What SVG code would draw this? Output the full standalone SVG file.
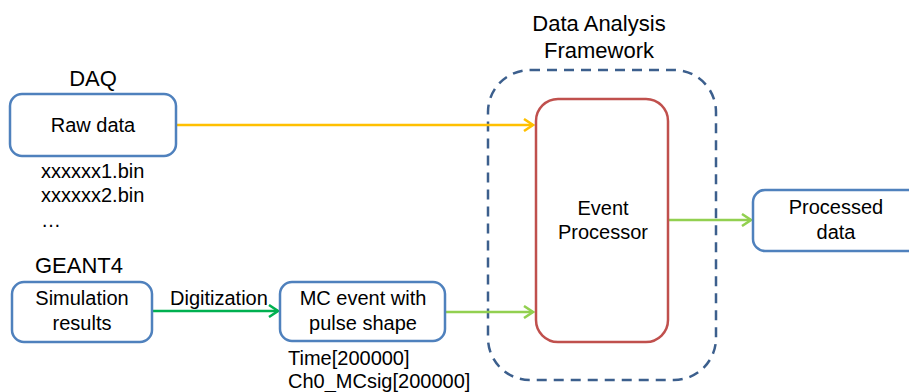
<svg xmlns="http://www.w3.org/2000/svg" width="909" height="392" viewBox="0 0 909 392">
<style>
text{font-family:"Liberation Sans",Arial,sans-serif;fill:#000}
.lbl{font-size:22px}
.t{font-size:20px;text-anchor:middle}
.s{font-size:20px}
.box{fill:#fff;stroke:#4F81BD;stroke-width:2.5}
.c{fill:none;stroke-width:2.5}
</style>
<defs>
<marker id="ay" markerWidth="14" markerHeight="14" refX="12" refY="7" orient="auto" markerUnits="userSpaceOnUse"><polyline points="3,1 12,7 3,13" fill="none" stroke="#FFC000" stroke-width="2.5"/></marker>
<marker id="ag" markerWidth="14" markerHeight="14" refX="12" refY="7" orient="auto" markerUnits="userSpaceOnUse"><polyline points="3,1 12,7 3,13" fill="none" stroke="#92D050" stroke-width="2.5"/></marker>
<marker id="ad" markerWidth="14" markerHeight="14" refX="12" refY="7" orient="auto" markerUnits="userSpaceOnUse"><polyline points="3,1 12,7 3,13" fill="none" stroke="#00B050" stroke-width="2.5"/></marker>
</defs>
<g id="framework">
<rect x="488" y="70" width="228" height="310" rx="42" fill="none" stroke="#3C5F8D" stroke-width="2.5" stroke-dasharray="10 7"/>
<text class="lbl" x="599" y="31" text-anchor="middle">Data Analysis</text>
<text class="lbl" x="599" y="58" text-anchor="middle">Framework</text>
</g>
<g id="connectors">
<line class="c" x1="176" y1="125" x2="533" y2="125" stroke="#FFC000" marker-end="url(#ay)"/>
<line class="c" x1="446" y1="312" x2="533" y2="312" stroke="#92D050" marker-end="url(#ag)"/>
<line class="c" x1="668" y1="220" x2="751" y2="220" stroke="#92D050" marker-end="url(#ag)"/>
<line class="c" x1="152" y1="311" x2="278" y2="311" stroke="#00B050" marker-end="url(#ad)"/>
<text class="s" x="170" y="305">Digitization</text>
</g>
<g id="raw">
<rect class="box" x="10" y="94" width="166" height="62" rx="12"/>
<text class="lbl" x="93" y="86" text-anchor="middle">DAQ</text>
<text class="t" x="93" y="132">Raw data</text>
<text class="s" x="41" y="178">xxxxxx1.bin</text>
<text class="s" x="41" y="202">xxxxxx2.bin</text>
<text class="s" x="41" y="227">…</text>
</g>
<g id="sim">
<text class="lbl" x="35" y="273">GEANT4</text>
<rect class="box" x="12" y="282" width="140" height="60" rx="12"/>
<text class="t" x="82" y="305">Simulation</text>
<text class="t" x="82" y="330">results</text>
</g>
<g id="mc">
<rect class="box" x="280" y="282" width="165" height="59" rx="12"/>
<text class="t" x="363" y="305">MC event with</text>
<text class="t" x="363" y="330">pulse shape</text>
<text class="s" x="288" y="365">Time[200000]</text>
<text class="s" x="288" y="388">Ch0_MCsig[200000]</text>
</g>
<g id="processor">
<rect x="536" y="99" width="132" height="243" rx="22" fill="#fff" stroke="#C0504D" stroke-width="2.5"/>
<text class="t" x="603" y="215">Event</text>
<text class="t" x="603" y="239">Processor</text>
</g>
<g id="processed">
<rect class="box" x="753" y="190" width="170" height="61" rx="12"/>
<text class="t" x="836" y="214">Processed</text>
<text class="t" x="836" y="239">data</text>
</g>
</svg>
